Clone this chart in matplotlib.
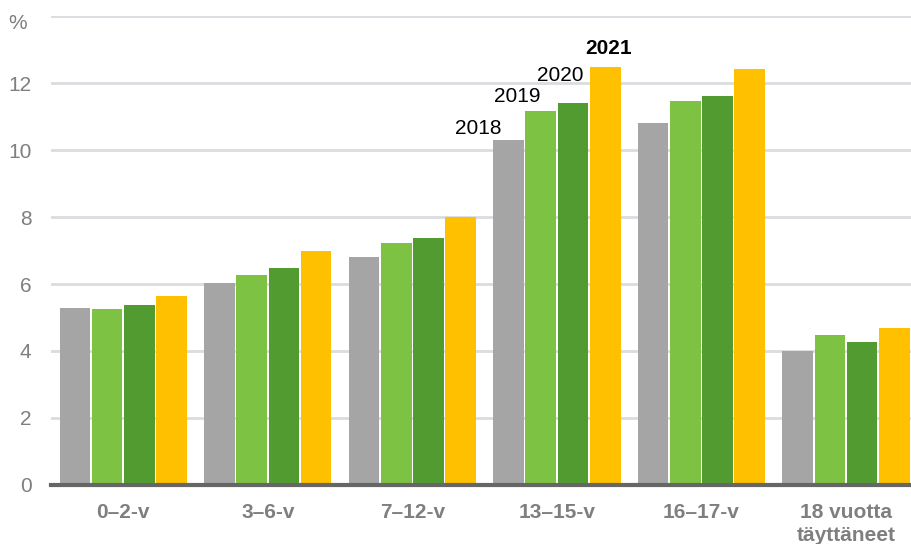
import matplotlib.pyplot as plt
import numpy as np

plt.rcParams['font.family'] = ['Liberation Sans', 'DejaVu Sans']

groups = ['0–2-v', '3–6-v', '7–12-v', '13–15-v', '16–17-v', '18 vuotta\ntäyttäneet']
years = ['2018', '2019', '2020', '2021']
v2018 = [5.28, 6.03, 6.81, 10.30, 10.80, 4.00]
v2019 = [5.25, 6.27, 7.22, 11.16, 11.46, 4.48]
v2020 = [5.37, 6.48, 7.37, 11.40, 11.61, 4.27]
v2021 = [5.64, 6.99, 8.00, 12.48, 12.42, 4.69]
colors = ['#A5A5A5', '#7DC242', '#519B31', '#FFC000']

series = [v2018, v2019, v2020, v2021]
x = np.arange(len(groups))
step = 0.223

fig = plt.figure(figsize=(9.11, 5.44), dpi=100)
ax = fig.add_axes([0.056, 0.1085, 0.944, 0.862])

for i, vals in enumerate(series):
    ax.bar(x + (i - 1.5) * step, vals, width=0.212, color=colors[i], zorder=3)

# year labels over the 13–15-v group
lab_dx = [-0.21, -0.163, -0.09, 0.025]
lab_dy = [0.05, 0.14, 0.53, 0.26]
for i, yr in enumerate(years):
    bx = x[3] + (i - 1.5) * step
    ax.text(bx + lab_dx[i], series[i][3] + lab_dy[i], yr, ha='center', va='bottom',
            fontsize=15, color='black', fontweight='bold' if yr == '2021' else 'normal')

ax.set_xlim(-0.5, 5.45)
ax.set_ylim(0, 14)
ax.set_yticks(range(0, 15, 2))
ax.set_yticklabels([str(v) for v in range(0, 13, 2)] + [''])
ax.grid(axis='y', color='#D9DCE0', linewidth=2, zorder=0)
ax.tick_params(axis='y', length=0, labelsize=15, labelcolor='#7F7F7F', pad=14)
ax.set_xticks(x)
ax.set_xticklabels(groups, fontsize=15, fontweight='bold', color='#7F7F7F', linespacing=1.25)
ax.tick_params(axis='x', length=0, pad=13)
ax.text(-0.039, 0.985, '%', transform=ax.transAxes, ha='center', va='center',
        fontsize=15, color='#7F7F7F')

for s in ['top', 'right', 'left']:
    ax.spines[s].set_visible(False)
ax.spines['bottom'].set_color('#666666')
ax.spines['bottom'].set_linewidth(3)
ax.spines['bottom'].set_zorder(4)

fig.savefig('out.png', dpi=100)
